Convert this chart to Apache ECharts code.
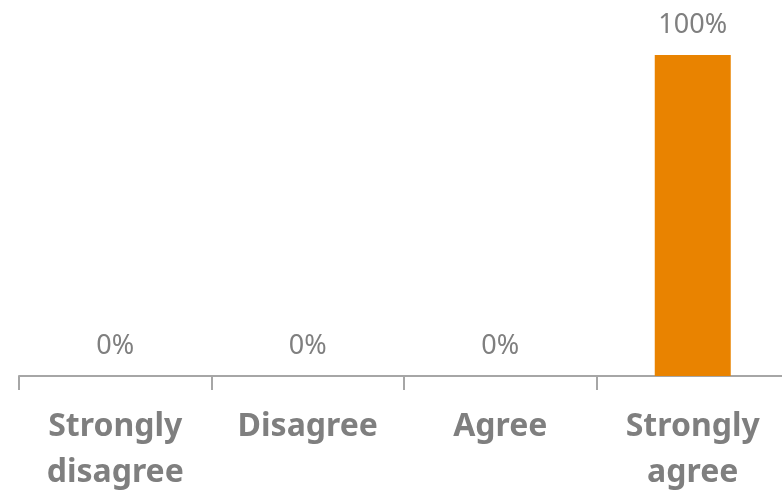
<!DOCTYPE html>
<html><head><meta charset="utf-8">
<script src="https://cdn.jsdelivr.net/npm/echarts@6/dist/echarts.min.js"></script>
<style>html,body{margin:0;padding:0;background:#fff}#c{width:782px;height:493px}</style>
</head><body><div id="c"></div>
<script>
const categories = ['Strongly\ndisagree', 'Disagree', 'Agree', 'Strongly\nagree'];
const values = [0, 0, 0, 100];

const chart = echarts.init(document.getElementById('c'));
chart.setOption({
  animation: false,
  grid: { left: 19, width: 770, top: 55, bottom: 117, containLabel: false, outerBoundsMode: 'none' },
  xAxis: {
    type: 'category',
    data: categories,
    axisLine: { lineStyle: { color: '#a6a6a6', width: 2 } },
    axisTick: { show: true, length: 14, lineStyle: { color: '#a6a6a6', width: 2 } },
    axisLabel: {
      interval: 0, margin: 28, color: '#7f7f7f', fontFamily: 'Noto Sans', fontWeight: 'bold',
      fontSize: 32, lineHeight: 46
    }
  },
  yAxis: { type: 'value', min: 0, max: 100, show: false, splitLine: { show: false } },
  series: [{
    type: 'bar', data: values, barWidth: 76,
    itemStyle: { color: '#E98300' },
    label: { show: true, position: 'top', distance: 16, formatter: '{c}%', color: '#7f7f7f',
      fontFamily: 'Noto Sans', fontSize: 27 }
  }]
});
</script></body></html>
